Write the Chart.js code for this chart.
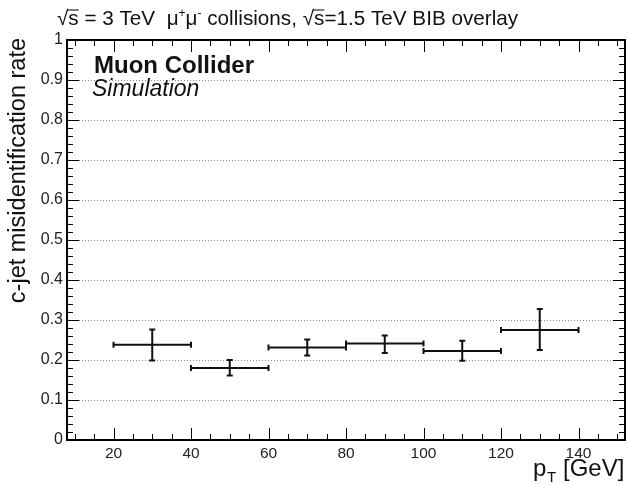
<!DOCTYPE html>
<html>
<head>
<meta charset="utf-8">
<script src="https://cdn.jsdelivr.net/npm/chart.js@4"></script>
<style>
  html, body { margin: 0; padding: 0; background: #fff; }
  canvas { display: block; }
</style>
</head>
<body>
<canvas id="rateChart" width="627" height="486"></canvas>
<script>
// bins in pT [GeV]
const binLow = [20, 40, 60, 80, 100, 120];
const binHigh = [40, 60, 80, 100, 120, 140];
// c-jet misidentification rate and asymmetric errors
const rates = [0.238, 0.180, 0.231, 0.241, 0.2225, 0.275];
const errUp = [0.038, 0.020, 0.020, 0.020, 0.0255, 0.0525];
const errDown = [0.039, 0.019, 0.020, 0.0235, 0.0245, 0.050];

const xTickValues = [20, 40, 60, 80, 100, 120, 140];
const yTickValues = [0, 0.1, 0.2, 0.3, 0.4, 0.5, 0.6, 0.7, 0.8, 0.9, 1];

const FONT = '"Liberation Sans", Arial, Helvetica, sans-serif';

const points = binLow.map((lo, i) => ({ x: (lo + binHigh[i]) / 2, y: rates[i] }));

// ROOT-like frame, ticks, dotted grid, error bars and labels
const rootStyle = {
    id: 'rootStyle',
    beforeDatasetsDraw(chart) {
        const { ctx, chartArea: a, scales: { y } } = chart;
        ctx.save();
        ctx.strokeStyle = '#8a8a8a';
        ctx.lineWidth = 1;
        ctx.setLineDash([1, 2]);
        yTickValues.forEach(v => {
            if (v === 0 || v === 1) return;
            const py = Math.round(y.getPixelForValue(v)) + 0.5;
            ctx.beginPath();
            ctx.moveTo(a.left, py);
            ctx.lineTo(a.right, py);
            ctx.stroke();
        });
        ctx.restore();
    },
    afterDatasetsDraw(chart) {
        const { ctx, chartArea: a, scales: { x, y } } = chart;
        ctx.save();
        ctx.strokeStyle = '#111';
        ctx.lineWidth = 2;

        // error bars
        points.forEach((p, i) => {
            const px = x.getPixelForValue(p.x);
            const py = y.getPixelForValue(p.y);
            const x0 = x.getPixelForValue(binLow[i]);
            const x1 = x.getPixelForValue(binHigh[i]);
            const yUp = y.getPixelForValue(p.y + errUp[i]);
            const yDn = y.getPixelForValue(p.y - errDown[i]);
            ctx.beginPath();
            ctx.moveTo(x0, py); ctx.lineTo(x1, py);
            ctx.moveTo(x0, py - 3); ctx.lineTo(x0, py + 3);
            ctx.moveTo(x1, py - 3); ctx.lineTo(x1, py + 3);
            ctx.moveTo(px, yUp); ctx.lineTo(px, yDn);
            ctx.moveTo(px - 3, yUp); ctx.lineTo(px + 3, yUp);
            ctx.moveTo(px - 3, yDn); ctx.lineTo(px + 3, yDn);
            ctx.stroke();
        });

        // ticks
        ctx.lineWidth = 1;
        ctx.strokeStyle = '#000';
        ctx.beginPath();
        for (let v = 10; v <= 150; v += 5) {
            const px = Math.round(x.getPixelForValue(v)) + 0.5;
            const len = v % 20 === 0 ? 12 : 6;
            ctx.moveTo(px, a.bottom); ctx.lineTo(px, a.bottom - len);
            ctx.moveTo(px, a.top); ctx.lineTo(px, a.top + len);
        }
        for (let k = 1; k < 50; k++) {
            const py = Math.round(y.getPixelForValue(k / 50)) + 0.5;
            const len = k % 5 === 0 ? 12 : 6;
            ctx.moveTo(a.left, py); ctx.lineTo(a.left + len, py);
            ctx.moveTo(a.right, py); ctx.lineTo(a.right - len, py);
        }
        ctx.stroke();

        // frame
        ctx.lineWidth = 2;
        ctx.strokeRect(a.left, a.top, a.right - a.left, a.bottom - a.top);

        // labels
        ctx.fillStyle = '#111';
        ctx.textBaseline = 'alphabetic';
        ctx.font = 'bold 24px ' + FONT;
        ctx.fillText('Muon Collider', 94, 73);
        ctx.font = 'italic 23px ' + FONT;
        ctx.fillText('Simulation', 92, 96);

        // y axis title
        ctx.save();
        ctx.translate(25, a.top - 2);
        ctx.rotate(-Math.PI / 2);
        ctx.textAlign = 'right';
        ctx.font = '23.5px ' + FONT;
        ctx.fillText('c-jet misidentification rate', 0, 0);
        ctx.restore();

        // x axis title
        ctx.textAlign = 'left';
        ctx.font = '24px ' + FONT;
        ctx.fillText('p', 533, 476);
        ctx.font = '15px ' + FONT;
        ctx.fillText('T', 547, 482);
        ctx.font = '24px ' + FONT;
        ctx.fillText('[GeV]', 563, 476);

        // top title
        let tx = 57;
        const ty = 25;
        const big = '20.7px ' + FONT, small = '12px ' + FONT;
        const piece = (txt, font, dy) => {
            ctx.font = font;
            ctx.fillText(txt, tx, ty + (dy || 0));
            tx += ctx.measureText(txt).width;
        };
        const sqrtS = () => {
            piece('\u221A', big);
            const sx = tx;
            piece('s', big);
            ctx.lineWidth = 1;
            ctx.beginPath();
            ctx.moveTo(sx - 1, ty - 15); ctx.lineTo(tx, ty - 15);
            ctx.stroke();
        };
        sqrtS();
        piece(' = 3 TeV  \u03BC', big);
        piece('+', small, -8);
        piece('\u03BC', big);
        piece('-', small, -8);
        piece(' collisions, ', big);
        sqrtS();
        piece('=1.5 TeV BIB overlay', big);

        ctx.restore();
    }
};

new Chart(document.getElementById('rateChart'), {
    type: 'scatter',
    data: {
        datasets: [{
            label: 'c-jet misid rate',
            data: points,
            pointRadius: 0,
            showLine: false
        }]
    },
    options: {
        responsive: false,
        animation: false,
        devicePixelRatio: 1,
        layout: { padding: { top: 40, right: 2, left: 0, bottom: 0 } },
        plugins: {
            legend: { display: false },
            tooltip: { enabled: false }
        },
        scales: {
            x: {
                type: 'linear',
                min: 8,
                max: 152,
                afterBuildTicks: s => { s.ticks = xTickValues.map(v => ({ value: v })); },
                afterFit: s => { s.height = 46; },
                grid: { display: false, drawTicks: false, tickLength: 0 },
                border: { display: false },
                ticks: {
                    color: '#222',
                    font: { family: FONT, size: 15.5 },
                    padding: 4,
                    maxRotation: 0,
                    autoSkip: false
                }
            },
            y: {
                min: 0,
                max: 1,
                afterBuildTicks: s => { s.ticks = yTickValues.map(v => ({ value: v })); },
                afterFit: s => { s.width = 67; },
                grid: { display: false, drawTicks: false, tickLength: 0 },
                border: { display: false },
                ticks: {
                    color: '#222',
                    font: { family: FONT, size: 16 },
                    padding: 4,
                    autoSkip: false,
                    callback: v => (v === 0 || v === 1) ? String(v) : v.toFixed(1)
                }
            }
        }
    },
    plugins: [rootStyle]
});
</script>
</body>
</html>
